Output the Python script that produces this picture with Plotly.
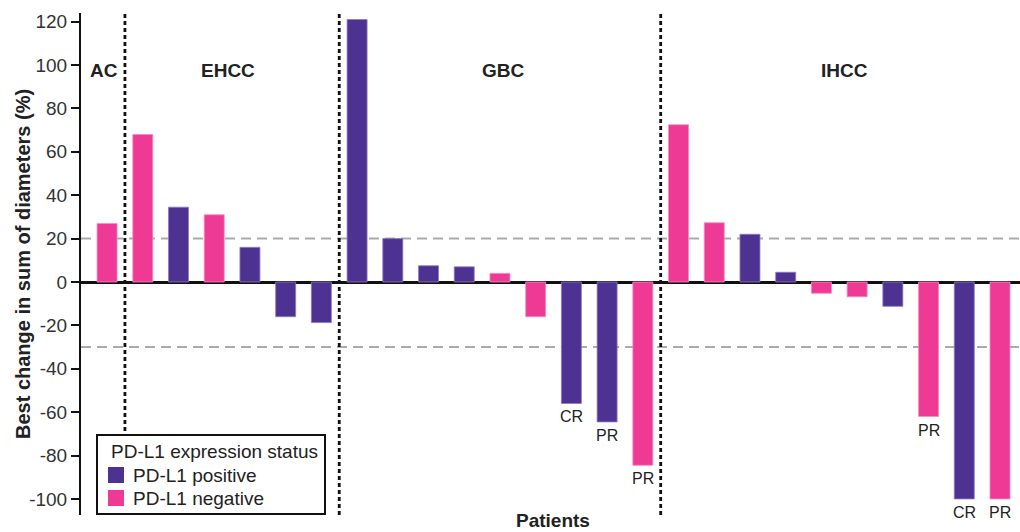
import plotly.graph_objects as go

# ---- data ----
groups = ["AC"] + ["EHCC"] * 6 + ["GBC"] * 9 + ["IHCC"] * 10
values = [27,
          68, 34.5, 31, 16, -16, -18.7,
          121, 20, 7.5, 7, 4, -16, -56, -64.5, -84.5,
          72.5, 27.3, 22, 4.5, -5.2, -6.8, -11.2, -62, -100, -100]
status = ["neg",
          "neg", "pos", "neg", "pos", "pos", "pos",
          "pos", "pos", "pos", "pos", "neg", "neg", "pos", "pos", "neg",
          "neg", "neg", "pos", "pos", "neg", "neg", "pos", "neg", "pos", "neg"]
response = ["", "", "", "", "", "", "",
            "", "", "", "", "", "", "CR", "PR", "PR",
            "", "", "", "", "", "", "", "PR", "CR", "PR"]
group_names = ["AC", "EHCC", "GBC", "IHCC"]
ref_lines = [20, -30]
y_ticks = [-100, -80, -60, -40, -20, 0, 20, 40, 60, 80, 100, 120]
y_tick_labels = [str(v) for v in y_ticks]
legend_title = "PD-L1 expression status"
legend_names = ["PD-L1 positive", "PD-L1 negative"]

PURPLE = "#4E3291"
PINK = "#EE3995"
FONT = "Liberation Sans, Arial, sans-serif"
TXT = "#222222"

# plot-area geometry (pixels) used to place paper-referenced decorations
L, T, W, H = 81, 13, 939, 502


def px(xp):
    return (xp - L) / W


def py(yp):
    return (T + H - yp) / H


idx = list(range(len(values)))
pos_x = [i for i in idx if status[i] == "pos"]
neg_x = [i for i in idx if status[i] == "neg"]

fig = go.Figure()
fig.add_trace(go.Bar(x=pos_x, y=[values[i] for i in pos_x], width=0.56,
                     marker=dict(color=PURPLE, line=dict(width=0.8, color="#8E7BBE")),
                     name=legend_names[0]))
fig.add_trace(go.Bar(x=neg_x, y=[values[i] for i in neg_x], width=0.56,
                     marker=dict(color=PINK, line=dict(width=0.8, color="#F68CC2")),
                     name=legend_names[1]))

# reference dashed lines
for r in ref_lines:
    fig.add_shape(type="line", xref="paper", yref="y", x0=0, x1=1, y0=r, y1=r,
                  line=dict(color="#AAAAAA", width=2, dash="10px,6px"), layer="below")

# group dividers
bounds = []
for i in range(1, len(groups)):
    if groups[i] != groups[i - 1]:
        bounds.append(i - 0.5)
for b in bounds:
    fig.add_shape(type="line", xref="x", yref="paper", x0=b, x1=b, y0=0, y1=1,
                  line=dict(color="#111111", width=2.8, dash="4px,3px"), layer="above")

# group labels
label_x = [-0.08, 3.39, 11.1, 20.66]
for g, lx in zip(group_names, label_x):
    fig.add_annotation(x=lx, y=py(70), xref="x", yref="paper", text="<b>%s</b>" % g,
                       showarrow=False, xanchor="center", yanchor="middle",
                       font=dict(size=19, color=TXT, family=FONT))

# response labels
for i in idx:
    if response[i]:
        fig.add_annotation(x=i, y=values[i], xref="x", yref="y", text=response[i],
                           showarrow=False, yanchor="top", yshift=-3,
                           font=dict(size=16, color=TXT, family=FONT))

# axis titles
fig.add_annotation(x=px(23), y=0.5, xref="paper", yref="paper",
                   text="<b>Best change in sum of diameters (%)</b>", textangle=-90,
                   showarrow=False, xanchor="center", yanchor="middle",
                   font=dict(size=20, color=TXT, family=FONT))
fig.add_annotation(x=0.503, y=py(520), xref="paper", yref="paper", text="<b>Patients</b>",
                   showarrow=False, xanchor="center", yanchor="middle",
                   font=dict(size=19, color=TXT, family=FONT))

# legend box (drawn by hand to match the reference layout)
fig.add_shape(type="rect", xref="paper", yref="paper",
              x0=px(97), x1=px(325), y0=py(514), y1=py(435),
              fillcolor="white", line=dict(color="#111111", width=2), layer="above")
fig.add_annotation(x=px(109), y=py(451), xref="paper", yref="paper", text=legend_title,
                   showarrow=False, xanchor="left", yanchor="middle",
                   font=dict(size=19, color=TXT, family=FONT))
for k, (nm, col) in enumerate(zip(legend_names, [PURPLE, PINK])):
    cy = 475 + 23 * k
    fig.add_shape(type="rect", xref="paper", yref="paper",
                  x0=px(108), x1=px(124), y0=py(cy + 8), y1=py(cy - 8),
                  fillcolor=col, line=dict(width=0), layer="above")
    fig.add_annotation(x=px(131), y=py(cy), xref="paper", yref="paper", text=nm,
                       showarrow=False, xanchor="left", yanchor="middle",
                       font=dict(size=19, color=TXT, family=FONT))

fig.update_layout(
    width=1020, height=532,
    margin=dict(l=L, r=1020 - L - W, t=T, b=532 - T - H),
    plot_bgcolor="white", paper_bgcolor="white",
    barmode="overlay",
    font=dict(family=FONT, color=TXT),
    showlegend=False,
    xaxis=dict(range=[-0.73, 25.56], showticklabels=False, ticks="",
               showgrid=False, zeroline=False, showline=False),
    yaxis=dict(range=[-107.4, 124.0], tickvals=y_ticks, ticktext=y_tick_labels,
               ticks="outside", ticklen=8,
               tickwidth=2, tickcolor="#111111",
               showline=True, linecolor="#111111", linewidth=2,
               showgrid=False, zeroline=True, zerolinecolor="#111111", zerolinewidth=2.5,
               tickfont=dict(size=19, color="#333333", family=FONT)),
)

fig.write_html("out.html", config={"displayModeBar": False},
               post_script="document.body.style.margin='0';document.body.style.overflow='hidden';")
